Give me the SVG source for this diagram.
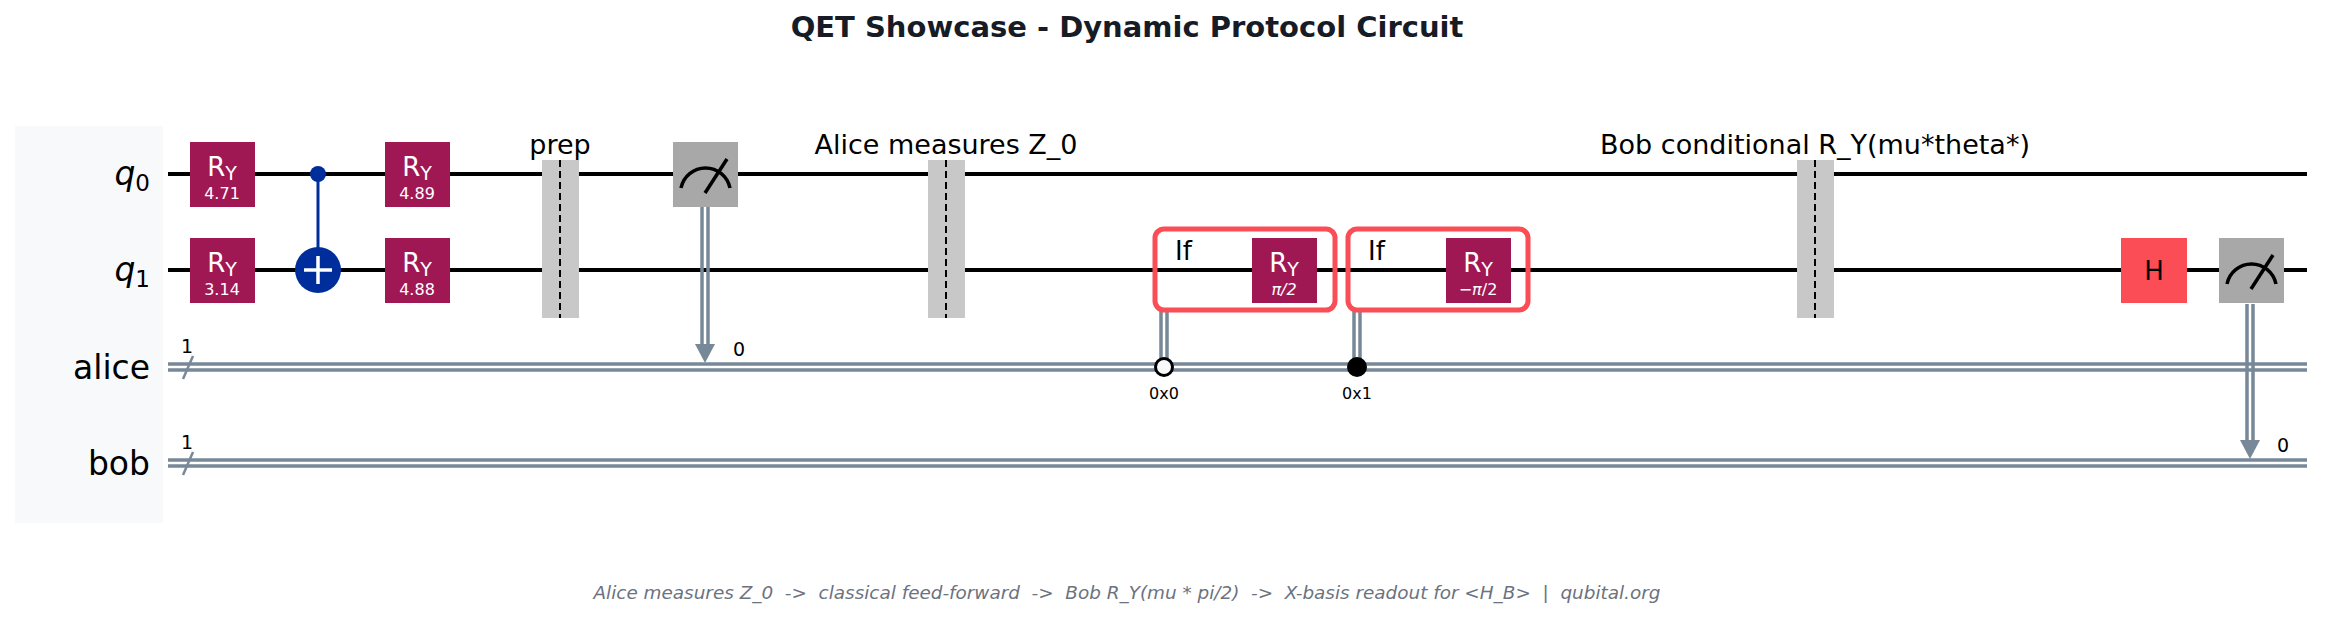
<svg xmlns="http://www.w3.org/2000/svg" width="2329" height="619" viewBox="0 0 2329 619">
<style>
text{font-family:"DejaVu Sans","Liberation Sans",sans-serif}
.qw{stroke:#000;stroke-width:4}
.cw{stroke:#778899;stroke-width:3.5;fill:none}
.ry{fill:#9f1853}
.gt{fill:#fff;font-size:26px;text-anchor:middle}
.gp{fill:#fff;font-size:16px;text-anchor:middle}
.bar{fill:#c8c8c8}
.dash{stroke:#000;stroke-width:2;stroke-dasharray:7,4}
.lbl{font-size:27px;text-anchor:middle;fill:#000}
.reg{font-size:33px;text-anchor:end;fill:#000}
.ifb{fill:none;stroke:#fa4d56;stroke-width:5}
.meas{fill:#a8a8a8}
.small{font-size:16px;text-anchor:middle;fill:#000}
.arr{fill:#778899}
</style>
<rect x="15" y="126" width="148" height="397" fill="#f8f9fb"/>
<text x="1127" y="37" font-size="29" font-weight="bold" text-anchor="middle" fill="#161b26">QET Showcase - Dynamic Protocol Circuit</text>
<g id="labels">
<text class="reg" x="150" y="185" font-style="italic">q<tspan font-size="23" dy="6" font-style="normal">0</tspan></text>
<text class="reg" x="150" y="281" font-style="italic">q<tspan font-size="23" dy="6" font-style="normal">1</tspan></text>
<text class="reg" x="150" y="379">alice</text>
<text class="reg" x="150" y="475">bob</text>
</g>
<g id="wires">
<line class="qw" x1="168" y1="174" x2="2307" y2="174"/>
<line class="qw" x1="168" y1="270" x2="2307" y2="270"/>
<line class="cw" x1="168" y1="364" x2="2307" y2="364"/><line class="cw" x1="168" y1="370" x2="2307" y2="370"/>
<line class="cw" x1="168" y1="460" x2="2307" y2="460"/><line class="cw" x1="168" y1="466" x2="2307" y2="466"/>
<line x1="183" y1="379" x2="193" y2="356" stroke="#778899" stroke-width="2.5"/>
<line x1="183" y1="475" x2="193" y2="452" stroke="#778899" stroke-width="2.5"/>
<text x="187" y="353" font-size="19" text-anchor="middle">1</text>
<text x="187" y="449" font-size="19" text-anchor="middle">1</text>
</g>
<g id="barriers">
<rect class="bar" x="542" y="160" width="37" height="158"/><line class="dash" x1="560" y1="160" x2="560" y2="318"/>
<text class="lbl" x="560" y="154">prep</text>
<rect class="bar" x="928" y="160" width="37" height="158"/><line class="dash" x1="946" y1="160" x2="946" y2="318"/>
<text class="lbl" x="946" y="154">Alice measures Z_0</text>
<rect class="bar" x="1797" y="160" width="37" height="158"/><line class="dash" x1="1815" y1="160" x2="1815" y2="318"/>
<text class="lbl" x="1815" y="154">Bob conditional R_Y(mu*theta*)</text>
</g>
<g id="ry1"><rect class="ry" x="190" y="142" width="65" height="65"/><text class="gt" x="222" y="176">R<tspan font-size="19" dy="4">Y</tspan></text><text class="gp" x="222" y="199">4.71</text></g>
<g id="ry2"><rect class="ry" x="190" y="238" width="65" height="65"/><text class="gt" x="222" y="272">R<tspan font-size="19" dy="4">Y</tspan></text><text class="gp" x="222" y="295">3.14</text></g>
<g id="cx">
<line x1="318" y1="174" x2="318" y2="262" stroke="#002d9c" stroke-width="3"/>
<circle cx="318" cy="174" r="8" fill="#002d9c"/>
<circle cx="318" cy="270" r="23" fill="#002d9c"/>
<line x1="318" y1="256" x2="318" y2="284" stroke="#fff" stroke-width="3.5"/><line x1="304" y1="270" x2="332" y2="270" stroke="#fff" stroke-width="3.5"/>
</g>
<g id="ry3"><rect class="ry" x="385" y="142" width="65" height="65"/><text class="gt" x="417" y="176">R<tspan font-size="19" dy="4">Y</tspan></text><text class="gp" x="417" y="199">4.89</text></g>
<g id="ry4"><rect class="ry" x="385" y="238" width="65" height="65"/><text class="gt" x="417" y="272">R<tspan font-size="19" dy="4">Y</tspan></text><text class="gp" x="417" y="295">4.88</text></g>
<g id="connectors">
<line class="cw" x1="702" y1="207" x2="702" y2="346"/><line class="cw" x1="708" y1="207" x2="708" y2="346"/>
<polygon class="arr" points="695,344 715,344 705,363"/>
<text x="733" y="356" font-size="19">0</text>
<line class="cw" x1="1161" y1="310" x2="1161" y2="360"/><line class="cw" x1="1167" y1="310" x2="1167" y2="360"/>
<line class="cw" x1="1354" y1="310" x2="1354" y2="360"/><line class="cw" x1="1360" y1="310" x2="1360" y2="360"/>
<line class="cw" x1="2247" y1="304" x2="2247" y2="442"/><line class="cw" x1="2253" y1="304" x2="2253" y2="442"/>
<polygon class="arr" points="2240,440 2260,440 2250,459"/>
<text x="2277" y="452" font-size="19">0</text>
</g>
<g id="meas1"><rect class="meas" x="673" y="142" width="65" height="65"/>
<path d="M681,188 A25,25 0 0 1 730,188" fill="none" stroke="#000" stroke-width="3.5"/><line x1="705" y1="193" x2="727" y2="159" stroke="#000" stroke-width="3.5"/></g>
<g id="if1">
<rect class="ifb" x="1155" y="229" width="180" height="81" rx="9"/>
<text x="1175" y="260" font-size="26">If</text>
<rect class="ry" x="1252" y="238" width="65" height="65"/><text class="gt" x="1284" y="272">R<tspan font-size="19" dy="4">Y</tspan></text><text class="gp" x="1284" y="295" font-style="italic">π/2</text>
<circle cx="1164" cy="367" r="8.5" fill="#f8f9fb" stroke="#000" stroke-width="3"/>
<text class="small" x="1164" y="399">0x0</text>
</g>
<g id="if2">
<rect class="ifb" x="1348" y="229" width="180" height="81" rx="9"/>
<text x="1368" y="260" font-size="26">If</text>
<rect class="ry" x="1446" y="238" width="65" height="65"/><text class="gt" x="1478" y="272">R<tspan font-size="19" dy="4">Y</tspan></text><text class="gp" x="1478" y="295">−<tspan font-style="italic">π</tspan>/2</text>
<circle cx="1357" cy="367" r="10" fill="#000"/>
<text class="small" x="1357" y="399">0x1</text>
</g>
<g id="h"><rect x="2121" y="238" width="66" height="65" fill="#fa4d56"/><text x="2154" y="280" font-size="26" text-anchor="middle">H</text></g>
<g id="meas2"><rect class="meas" x="2219" y="238" width="65" height="65"/>
<path d="M2227,284 A25,25 0 0 1 2276,284" fill="none" stroke="#000" stroke-width="3.5"/><line x1="2251" y1="289" x2="2273" y2="255" stroke="#000" stroke-width="3.5"/></g>
<text x="1127" y="599" font-size="18.4" font-style="italic" text-anchor="middle" fill="#6b7280" style="white-space:pre" xml:space="preserve">Alice measures Z_0  -&gt;  classical feed-forward  -&gt;  Bob R_Y(mu * pi/2)  -&gt;  X-basis readout for &lt;H_B&gt;  |  qubital.org</text>
</svg>
